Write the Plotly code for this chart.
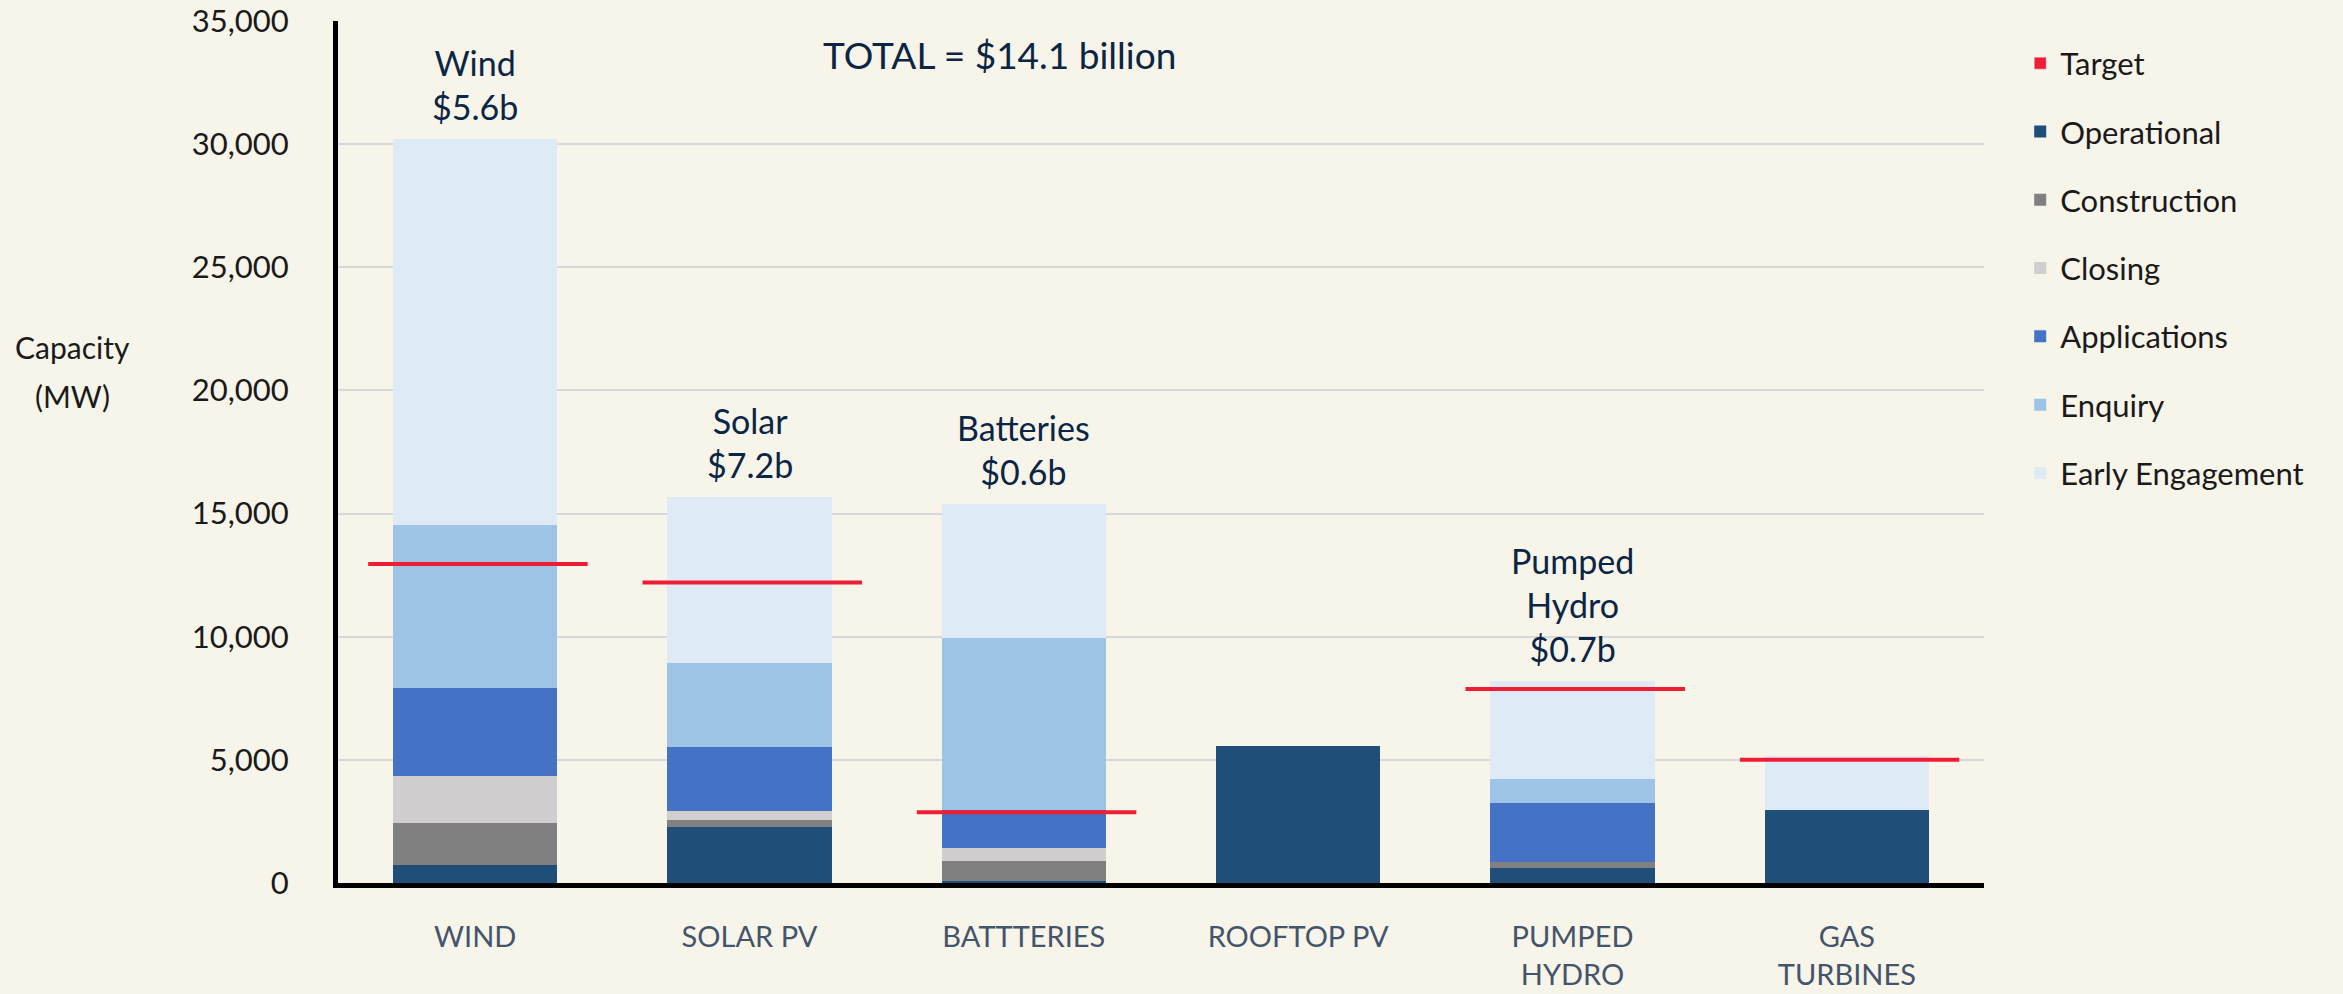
import plotly.graph_objects as go

categories = ["WIND", "SOLAR PV", "BATTTERIES", "ROOFTOP PV", "PUMPED<br>HYDRO", "GAS<br>TURBINES"]
operational = [720, 2260, 80, 5580, 600, 2950]
construction = [1720, 315, 800, 0, 240, 0]
closing = [1920, 365, 555, 0, 0, 0]
applications = [3540, 2600, 1545, 0, 2390, 0]
enquiry = [6650, 3390, 6965, 0, 1010, 0]
early_engagement = [15650, 6750, 5430, 0, 3945, 2210]
targets = [12950, 12200, 2870, None, 7880, 5000]
bar_labels = ["Wind<br>$5.6b", "Solar<br>$7.2b", "Batteries<br>$0.6b", "", "Pumped<br>Hydro<br>$0.7b", ""]
total_label = "TOTAL = $14.1 billion"
y_ticks = [0, 5000, 10000, 15000, 20000, 25000, 30000, 35000]

series = [
    ("Operational", operational, "#1F4E79"),
    ("Construction", construction, "#808080"),
    ("Closing", closing, "#D0CECE"),
    ("Applications", applications, "#4472C4"),
    ("Enquiry", enquiry, "#9DC3E6"),
    ("Early Engagement", early_engagement, "#DEEBF7"),
]

FONT = "Lato"
BG = "#F7F4EA"
RED = "#EE1C35"
NAVY = "#0B2545"
xs = list(range(len(categories)))

fig = go.Figure()

# legend-only entry for Target (square swatch)
fig.add_trace(go.Bar(x=xs, y=[None] * len(xs), name="Target", marker=dict(color=RED),
                     legendgroup="Target", hoverinfo="skip"))

for name, vals, col in series:
    fig.add_trace(go.Bar(x=xs, y=vals, name=name, width=0.6,
                         marker=dict(color=col, line=dict(width=0)),
                         legendgroup=name))

# target lines
tx, ty = [], []
for i, t in enumerate(targets):
    if t is None:
        continue
    tx += [i - 0.39, i + 0.41, None]
    ty += [t, t, None]
fig.add_trace(go.Scatter(x=tx, y=ty, mode="lines", line=dict(color=RED, width=4),
                         showlegend=False, hoverinfo="skip"))

totals = [sum(v) for v in zip(*[s[1] for s in series])]
annotations = []
for i, (lab, tot) in enumerate(zip(bar_labels, totals)):
    if not lab:
        continue
    annotations.append(dict(x=i, y=tot, xref="x", yref="y", text=lab, showarrow=False,
                            xanchor="center", yanchor="bottom", yshift=10,
                            font=dict(family=FONT, size=34, color=NAVY)))
annotations.append(dict(x=1.91, y=33650, xref="x", yref="y", text=total_label, showarrow=False,
                        xanchor="center", font=dict(family=FONT, size=37, color=NAVY)))
annotations.append(dict(x=-0.161, y=0.622, xref="paper", yref="paper", text="Capacity",
                        xanchor="center", yanchor="middle", showarrow=False,
                        font=dict(family=FONT, size=30, color="#1a1a1a")))
annotations.append(dict(x=-0.161, y=0.565, xref="paper", yref="paper", text="(MW)",
                        xanchor="center", yanchor="middle", showarrow=False,
                        font=dict(family=FONT, size=30, color="#1a1a1a")))

fig.update_layout(
    width=2343, height=994,
    margin=dict(l=338, r=359, t=21, b=111, autoexpand=False),
    paper_bgcolor=BG, plot_bgcolor=BG,
    barmode="stack", bargap=0.4,
    font=dict(family=FONT, color="#1a1a1a"),
    showlegend=True,
    legend=dict(x=1.022, y=0.982, xanchor="left", yanchor="top", traceorder="grouped",
                tracegroupgap=25, font=dict(family=FONT, size=31, color="#1a1a1a"),
                bgcolor="rgba(0,0,0,0)"),
    annotations=annotations,
)
fig.update_xaxes(range=[-0.5, 5.5], tickmode="array", tickvals=xs, ticktext=categories,
                 automargin=False,
                 showgrid=False, zeroline=False, showline=True, linecolor="black", linewidth=5,
                 ticks="", ticklabelstandoff=24,
                 tickfont=dict(family=FONT, size=29, color="#44546A"))
fig.update_yaxes(range=[0, 35000], tickmode="array", tickvals=y_ticks, tickformat=",d",
                 automargin=False,
                 showgrid=True, gridcolor="#D9D9D9", gridwidth=2, zeroline=False,
                 showline=True, linecolor="black", linewidth=5, ticks="", ticklabelstandoff=38,
                 tickfont=dict(family=FONT, size=31, color="#1a1a1a"))

fig.write_html("out.html", config={"displayModeBar": False},
               post_script="document.body.style.margin='0';")
